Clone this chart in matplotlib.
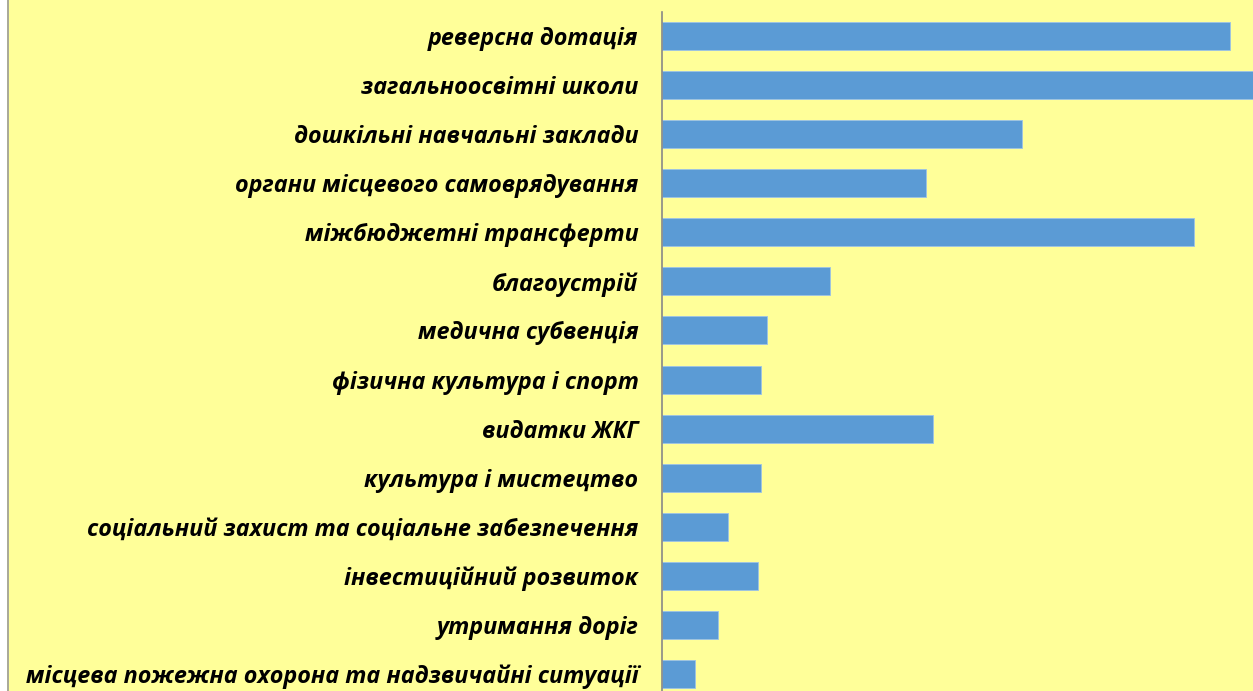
import matplotlib
matplotlib.use("Agg")
import matplotlib.pyplot as plt
from matplotlib.patches import Rectangle

categories = [
    "реверсна дотація",
    "загальноосвітні школи",
    "дошкільні навчальні заклади",
    "органи місцевого самоврядування",
    "міжбюджетні трансферти",
    "благоустрій",
    "медична субвенція",
    "фізична культура і спорт",
    "видатки ЖКГ",
    "культура і мистецтво",
    "соціальний захист та соціальне забезпечення",
    "інвестиційний розвиток",
    "утримання доріг",
    "місцева пожежна охорона та надзвичайні ситуації",
]
values = [568, 610, 360, 264, 532, 168, 105, 99, 271, 99, 66, 96, 56, 33]

W, H = 1253, 691
fig = plt.figure(figsize=(W / 100, H / 100), dpi=100)
fig.patch.set_facecolor("#FFFF99")
strip = Rectangle((0, 0), 7 / W, 1, transform=fig.transFigure,
                  facecolor="white", edgecolor="none", zorder=-10)
fig.patches.append(strip)
fig.add_artist(plt.Line2D([7.5 / W, 7.5 / W], [0, 1], color="#999999", lw=1.2,
                          transform=fig.transFigure, zorder=-5))

left = 662 / W
top_px, bot_px = 11.5, 698.5
ax = fig.add_axes([left, (H - bot_px) / H, 1 - left, (bot_px - top_px) / H])
ax.set_facecolor("none")
n = len(categories)
y = list(range(n))
ax.barh(y, values, height=0.57, color="#5B9BD5", edgecolor="#9DC3E6", linewidth=0.6)
ax.set_ylim(n - 0.5, -0.5)
ax.set_xlim(0, 591)
ax.set_yticks(y)
ax.set_yticklabels(categories, fontfamily="Open Sans", fontweight="bold",
                   fontstyle="italic", fontsize=16.8)
ax.tick_params(axis="y", length=0, pad=17)
ax.set_xticks([])
for s in ["top", "right", "bottom"]:
    ax.spines[s].set_visible(False)
ax.spines["left"].set_color("#888888")
ax.spines["left"].set_linewidth(1.2)

fig.savefig("out.png", dpi=100)
